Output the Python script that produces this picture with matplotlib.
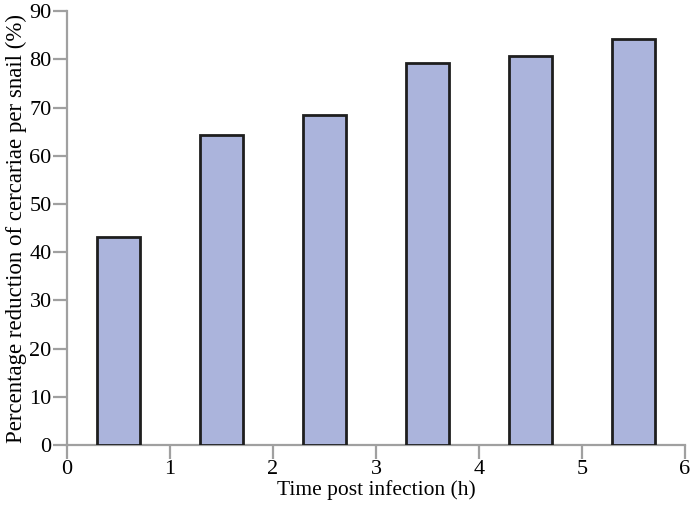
import numpy as np
import matplotlib
matplotlib.use("Agg")
import matplotlib.pyplot as plt

times = [0.5, 1.5, 2.5, 3.5, 4.5, 5.5]
reduction = [43.1, 64.4, 68.5, 79.3, 80.6, 84.3]
xticks = [0, 1, 2, 3, 4, 5, 6]
yticks = [0, 10, 20, 30, 40, 50, 60, 70, 80, 90]

plt.rcParams['font.family'] = ['Liberation Serif', 'DejaVu Serif']

fig = plt.figure(figsize=(6.94, 5.05), dpi=100)
ax = fig.add_axes([0.0965, 0.119, 0.8905, 0.859])

ax.bar(times, reduction, width=0.42, color='#abb4dc', edgecolor='#1e1e1e',
       linewidth=2, zorder=3)

ax.set_xlim(0, 6)
ax.set_ylim(0, 90)
ax.set_xticks(xticks)
ax.set_yticks(yticks)

for s in ['top', 'right']:
    ax.spines[s].set_visible(False)
for s in ['left', 'bottom']:
    ax.spines[s].set_color('#a0a0a0')
    ax.spines[s].set_linewidth(1.6)

ax.tick_params(axis='both', direction='out', length=10, width=1.6,
               color='#a0a0a0', labelsize=16, pad=1)

ax.set_xlabel('Time post infection (h)', fontsize=15.5, labelpad=1)
ax.set_ylabel('Percentage reduction of cercariae per snail (%)',
              fontsize=16.5, labelpad=2)

fig.savefig('out.png', dpi=100)
